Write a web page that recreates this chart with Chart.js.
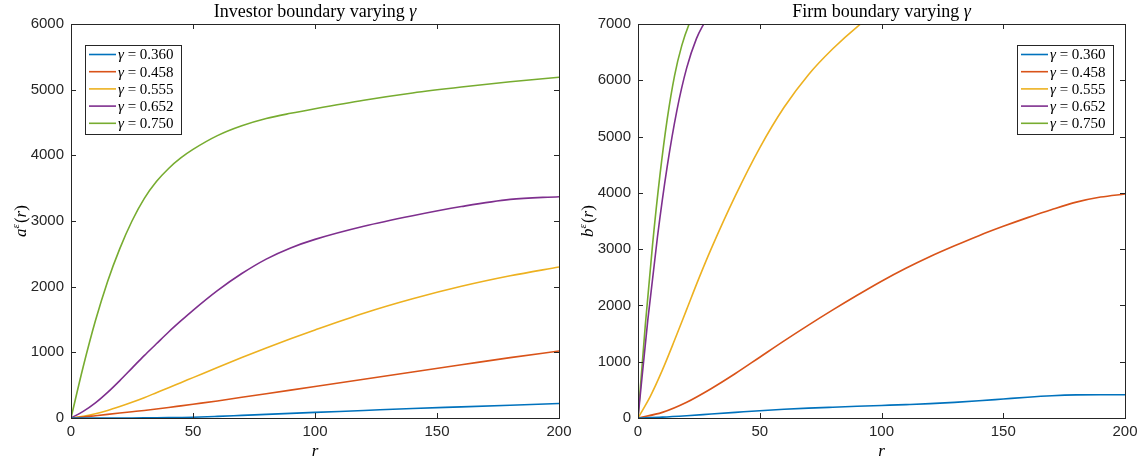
<!DOCTYPE html>
<html>
<head>
<meta charset="utf-8">
<script src="https://cdn.jsdelivr.net/npm/chart.js@4"></script>
<style>
  body { margin: 0; background: #fff; width: 1144px; height: 461px; overflow: hidden; position: relative; }
  .panel { position: absolute; top: 0; width: 572px; height: 461px; }
</style>
</head>
<body>
<div class="panel" style="left:0"><canvas id="invChart" width="572" height="461"></canvas></div>
<div class="panel" style="left:572px"><canvas id="firmChart" width="572" height="461"></canvas></div>
<script>
// gamma values and matlab colours
const gammaLabels = ["0.360", "0.458", "0.555", "0.652", "0.750"];
const lineColors = ["#0072BD", "#D95319", "#EDB120", "#7E2F8E", "#77AC30"];
const xTicks = [0, 50, 100, 150, 200];

// left panel: investor boundary a(r)
const rInv = [0, 5, 10, 15, 20, 25, 30, 35, 40, 45, 50, 60, 70, 80, 90, 100, 120, 140, 160, 180, 200];
const invA036 = [0, 0, 0, 0, 0, 1, 2, 3, 5, 8, 12, 25, 40, 55, 70, 85, 115, 145, 170, 195, 220];
const invA458 = [0, 15, 35, 55, 75, 95, 115, 137, 160, 185, 210, 260, 315, 370, 425, 480, 590, 700, 810, 920, 1020];
const invA555 = [0, 25, 65, 115, 175, 240, 310, 385, 460, 538, 615, 770, 920, 1065, 1205, 1340, 1595, 1815, 2005, 2165, 2300];
const invA652 = [0, 100, 230, 390, 570, 760, 950, 1130, 1310, 1478, 1640, 1940, 2200, 2420, 2590, 2720, 2920, 3080, 3220, 3330, 3370];
const invA750 = [0, 780, 1480, 2080, 2580, 3000, 3340, 3600, 3800, 3960, 4090, 4300, 4450, 4560, 4640, 4710, 4840, 4950, 5040, 5120, 5190];

// right panel: firm boundary b(r)
const rFirm = [0, 10, 20, 30, 40, 50, 60, 70, 80, 90, 100, 110, 120, 130, 140, 150, 160, 170, 180, 190, 200];
const firmB036 = [0, 15, 40, 70, 100, 130, 155, 175, 192, 208, 223, 238, 255, 278, 306, 338, 370, 395, 410, 413, 413];
const firmB458 = [0, 100, 280, 520, 790, 1080, 1370, 1650, 1920, 2180, 2430, 2660, 2870, 3060, 3240, 3405, 3560, 3705, 3835, 3925, 3980];
const rFirm555 = [0, 5, 10, 15, 20, 25, 30, 40, 50, 60, 70, 80, 90, 100];
const firmB555 = [0, 380, 850, 1380, 1930, 2480, 3000, 3950, 4800, 5520, 6100, 6560, 6950, 7280];
const rFirm652 = [0, 4, 8, 12, 16, 20, 24, 27, 30];
const firmB652 = [0, 1730, 3220, 4470, 5470, 6220, 6740, 7000, 7220];
const rFirm750 = [0, 3, 6, 9, 12, 15, 18, 21, 24];
const firmB750 = [0, 1650, 3090, 4310, 5310, 6080, 6620, 7000, 7280];

const AX = "#262626";
const SANS = "'Liberation Sans', Arial, sans-serif";
const SERIF = "'Liberation Serif', 'DejaVu Serif', serif";

function pts(xs, ys) {
  return xs.map((x, i) => ({ x: x, y: ys[i] }));
}

function makeSets(list) {
  return list.map(([xs, ys], i) => ({
    label: "γ = " + gammaLabels[i],
    data: pts(xs, ys),
    borderColor: lineColors[i],
    backgroundColor: lineColors[i],
    borderWidth: 1.6,
    pointRadius: 0,
    cubicInterpolationMode: "monotone",
    fill: false
  }));
}

// draws text pieces in a row: [text, italic]
function drawPieces(ctx, pieces, x, y, size, align) {
  let total = 0;
  pieces.forEach(p => {
    ctx.font = (p[1] ? "italic " : "") + size + "px " + SERIF;
    total += ctx.measureText(p[0]).width;
  });
  let cx = align === "center" ? x - total / 2 : x;
  pieces.forEach(p => {
    ctx.font = (p[1] ? "italic " : "") + size + "px " + SERIF;
    ctx.fillText(p[0], cx, y);
    cx += ctx.measureText(p[0]).width;
  });
}

// matlab-like box, ticks inside, title, axis labels and legend
const matlabBox = {
  id: "matlabBox",
  afterDatasetsDraw(chart, args, opts) {
    const ctx = chart.ctx;
    const a = chart.chartArea;
    const xs = chart.scales.x, ys = chart.scales.y;
    ctx.save();
    ctx.strokeStyle = AX;
    ctx.lineWidth = 1;
    ctx.strokeRect(Math.round(a.left) + 0.5, Math.round(a.top) + 0.5,
                   Math.round(a.right - a.left), Math.round(a.bottom - a.top));
    ctx.beginPath();
    xTicks.forEach(v => {
      const px = Math.round(xs.getPixelForValue(v)) + 0.5;
      ctx.moveTo(px, a.bottom); ctx.lineTo(px, a.bottom - 5);
      ctx.moveTo(px, a.top); ctx.lineTo(px, a.top + 5);
    });
    for (let v = 0; v <= ys.max; v += 1000) {
      const py = Math.round(ys.getPixelForValue(v)) + 0.5;
      ctx.moveTo(a.left, py); ctx.lineTo(a.left + 5, py);
      ctx.moveTo(a.right, py); ctx.lineTo(a.right - 5, py);
    }
    ctx.stroke();

    // title
    ctx.fillStyle = "#000";
    ctx.textBaseline = "middle";
    ctx.textAlign = "left";
    const mid = (a.left + a.right) / 2;
    drawPieces(ctx, [[opts.title, false], ["γ", true]], mid, 12, 18, "center");

    // x label
    drawPieces(ctx, [["r", true]], mid, 452, 17, "center");

    // y label, rotated
    ctx.save();
    ctx.translate(opts.yLabelX, (a.top + a.bottom) / 2);
    ctx.rotate(-Math.PI / 2);
    ctx.font = "italic 17px " + SERIF;
    const w1 = ctx.measureText(opts.yLetter).width;
    ctx.font = "italic 11px " + SERIF;
    const w2 = ctx.measureText("ε").width;
    ctx.font = "17px " + SERIF;
    const w3 = ctx.measureText("(").width + ctx.measureText(")").width;
    ctx.font = "italic 17px " + SERIF;
    const w4 = ctx.measureText("r").width;
    let cx = -(w1 + w2 + w3 + w4 + 1) / 2;
    ctx.fillText(opts.yLetter, cx, 0); cx += w1;
    ctx.font = "italic 11px " + SERIF;
    ctx.fillText("ε", cx, -6); cx += w2 + 1;
    ctx.font = "17px " + SERIF;
    ctx.fillText("(", cx, 0); cx += ctx.measureText("(").width;
    ctx.font = "italic 17px " + SERIF;
    ctx.fillText("r", cx, 0); cx += w4;
    ctx.font = "17px " + SERIF;
    ctx.fillText(")", cx, 0);
    ctx.restore();

    // legend box
    const bw = 96, bh = 89;
    const bx = opts.legendSide === "left" ? a.left + 14 : a.right - 12 - bw;
    const by = a.top + 21;
    ctx.fillStyle = "#fff";
    ctx.fillRect(bx, by, bw, bh);
    ctx.strokeStyle = AX;
    ctx.lineWidth = 1;
    ctx.strokeRect(Math.round(bx) + 0.5, Math.round(by) + 0.5, bw, bh);
    chart.data.datasets.forEach((ds, i) => {
      const ly = by + 9.5 + i * 17.2;
      ctx.strokeStyle = ds.borderColor;
      ctx.lineWidth = 1.6;
      ctx.beginPath();
      ctx.moveTo(bx + 4, ly); ctx.lineTo(bx + 31, ly);
      ctx.stroke();
      ctx.fillStyle = "#000";
      drawPieces(ctx, [["γ", true], [" = " + gammaLabels[i], false]], bx + 33, ly + 1, 15, "left");
    });
    ctx.restore();
  }
};

function makeChart(id, sets, yMax, yWidth, padRight, opts) {
  return new Chart(document.getElementById(id), {
    type: "line",
    data: { datasets: sets },
    options: {
      responsive: false,
      animation: false,
      devicePixelRatio: 1,
      layout: { padding: { left: 0, top: 24, right: padRight, bottom: 0 } },
      plugins: {
        legend: { display: false },
        tooltip: { enabled: false },
        matlabBox: opts
      },
      scales: {
        x: {
          type: "linear", min: 0, max: 200,
          grid: { display: false, drawTicks: false },
          border: { display: false },
          ticks: { stepSize: 50, color: AX, padding: 5, font: { family: SANS, size: 15 },
                   callback: v => String(v) },
          afterFit: s => { s.height = 43; s.paddingLeft = 0; s.paddingRight = 0; }
        },
        y: {
          min: 0, max: yMax,
          grid: { display: false, drawTicks: false },
          border: { display: false },
          ticks: { stepSize: 1000, color: AX, padding: 7, font: { family: SANS, size: 15 },
                   callback: v => String(v) },
          afterFit: s => { s.width = yWidth; }
        }
      }
    },
    plugins: [matlabBox]
  });
}

makeChart("invChart", makeSets([
  [rInv, invA036], [rInv, invA458], [rInv, invA555], [rInv, invA652], [rInv, invA750]
]), 6000, 71, 13, { title: "Investor boundary varying ", yLetter: "a", yLabelX: 22, legendSide: "left" });

makeChart("firmChart", makeSets([
  [rFirm, firmB036], [rFirm, firmB458], [rFirm555, firmB555], [rFirm652, firmB652], [rFirm750, firmB750]
]), 7000, 66, 19, { title: "Firm boundary varying ", yLetter: "b", yLabelX: 17, legendSide: "right" });
</script>
</body>
</html>
